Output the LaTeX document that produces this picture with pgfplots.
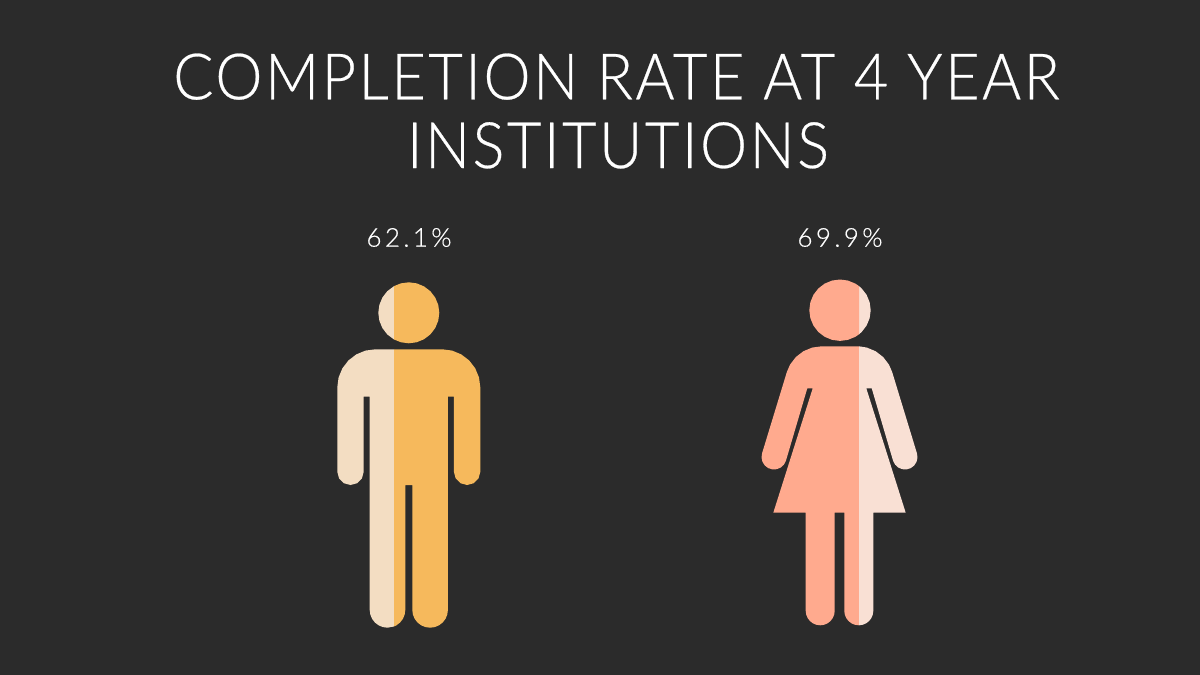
\documentclass[border=0pt]{standalone}
\usepackage{fontspec}
\usepackage{pgfplots}
\pgfplotsset{compat=1.18}
\newfontfamily\titlefont[LetterSpace=4,FakeStretch=0.93,FakeBold=0.4]{Lato Light}
\newfontfamily\labelfont[LetterSpace=13,FakeBold=0.4]{Lato Light}
\definecolor{bg}{HTML}{2B2B2B}
\definecolor{maledark}{HTML}{F6B95C}
\definecolor{malelight}{HTML}{F3DDC2}
\definecolor{femaledark}{HTML}{FFAA8E}
\definecolor{femalelight}{HTML}{F9E0D4}
\begin{document}
\begin{tikzpicture}
  \begin{axis}[
    width=1200pt,
    height=675pt,
    scale only axis,
    xmin=0, xmax=1200,
    ymin=0, ymax=675,
    y dir=reverse,
    ticks=none,
    axis line style={draw=none},
    axis background/.style={fill=bg},
    every axis plot/.append style={draw=none, no markers}
    ]
    % male head
    \addplot[fill=malelight] coordinates {(394,286.14) (387.23,291.23) (382.39,297.55) (379.34,304.91) (378.3,312.8)
      (379.34,320.69) (382.39,328.05) (387.23,334.37) (394,339.46)};
    \addplot[fill=maledark] coordinates {(394,339.46) (400.91,342.26) (408.8,343.3) (416.69,342.26) (424.05,339.21)
      (430.37,334.37) (435.21,328.05) (438.26,320.69) (439.3,312.8) (438.26,304.91) (435.21,297.55)
      (430.37,291.23) (424.05,286.39) (416.69,283.34) (408.8,282.3) (400.91,283.34) (394,286.14)};
    % male body
    \addplot[fill=malelight] coordinates {(394,349.3) (375.3,349.3) (365.46,350.59) (356.3,354.39) (348.43,360.43)
      (342.39,368.3) (338.59,377.46) (337.3,387.3) (337.3,471.8) (339.07,478.4) (343.9,483.23) (350.5,485)
      (357.1,483.23) (361.93,478.4) (363.7,471.8) (363.7,396.7) (369.7,396.7) (369.7,609.9) (370.31,614.51)
      (372.08,618.8) (374.91,622.49) (378.6,625.32) (382.89,627.09) (387.5,627.7) (394,626.47)};
    \addplot[fill=maledark] coordinates {(394,349.3) (442.3,349.3) (452.14,350.59) (461.3,354.39) (469.17,360.43)
      (475.21,368.3) (479.01,377.46) (480.3,387.3) (480.3,471.8) (478.53,478.4) (473.7,483.23) (467.1,485)
      (460.5,483.23) (455.67,478.4) (453.9,471.8) (453.9,396.7) (447.9,396.7) (447.9,609.9) (447.29,614.51)
      (445.52,618.8) (442.69,622.49) (439,625.32) (434.71,627.09) (430.1,627.7) (425.49,627.09) (421.2,625.32)
      (417.51,622.49) (414.68,618.8) (412.89,614.51) (412.3,609.9) (412.3,485) (405.3,485) (405.3,609.9)
      (404.69,614.51) (402.92,618.8) (400.09,622.49) (396.4,625.32) (394,626.47)};
    % female head
    \addplot[fill=femalelight] coordinates {(859,286.1) (861.71,288.49) (866.59,294.85) (869.65,302.25) (870.7,310.2)
      (869.65,318.15) (866.59,325.55) (861.71,331.91) (859,334.3)};
    \addplot[fill=femaledark] coordinates {(859,334.3) (855.35,336.79) (847.95,339.85) (840,340.9) (832.05,339.85)
      (824.65,336.79) (818.29,331.91) (813.41,325.55) (810.35,318.15) (809.3,310.2) (810.35,302.25)
      (813.41,294.85) (818.29,288.49) (824.65,283.61) (832.05,280.55) (840,279.5) (847.95,280.55)
      (855.35,283.61) (859,286.1)};
    % female body
    \addplot[fill=femaledark] coordinates {(859,346.3) (821.7,346.3) (812.25,347.54) (803.45,351.19) (795.89,356.99)
      (790.09,364.55) (786.88,371.89) (762.07,453.26) (761.51,457.57) (762.46,461.8) (764.8,465.46) (768.25,468.1)
      (772.39,469.4) (776.73,469.2) (780.74,467.53) (783.93,464.59) (785.93,460.74) (807.3,388.3) (812.7,388.3)
      (773.3,512.7) (805.7,512.7) (805.7,610.8) (806.19,614.55) (807.64,618.05) (809.95,621.05) (812.95,623.36)
      (816.45,624.81) (820.2,625.3) (823.95,624.81) (827.45,623.36) (830.45,621.05) (832.76,618.05) (834.21,614.55)
      (834.7,610.8) (834.7,512.7) (844.3,512.7) (844.3,610.8) (844.79,614.55) (846.24,618.05) (848.55,621.05)
      (851.55,623.36) (855.05,624.81) (859,625.3)};
    \addplot[fill=femalelight] coordinates {(859,346.3) (866.75,347.54) (875.55,351.19) (883.11,356.99) (888.91,364.55)
      (892.12,371.89) (916.93,453.26) (917.49,457.57) (916.54,461.8) (914.2,465.46) (910.75,468.1) (906.61,469.4)
      (902.27,469.2) (898.26,467.53) (895.07,464.59) (893.07,460.74) (871.7,388.3) (866.3,388.3) (905.7,512.7)
      (873.3,512.7) (873.3,610.8) (872.81,614.55) (871.36,618.05) (869.05,621.05) (866.05,623.36) (862.55,624.81)
      (859,625.3)};
    % title and values
    \node[anchor=base, text=white, font=\titlefont\fontsize{64}{64}\selectfont] at (axis cs:616.5,99.3) {COMPLETION RATE AT 4 YEAR};
    \node[anchor=base, text=white, font=\titlefont\fontsize{64}{64}\selectfont] at (axis cs:618,168) {INSTITUTIONS};
    \node[anchor=base, text=white, font=\labelfont\fontsize{26}{26}\selectfont] at (axis cs:409,246.7) {62.1\%};
    \node[anchor=base, text=white, font=\labelfont\fontsize{26}{26}\selectfont] at (axis cs:840,246.7) {69.9\%};
  \end{axis}
\end{tikzpicture}
\end{document}
